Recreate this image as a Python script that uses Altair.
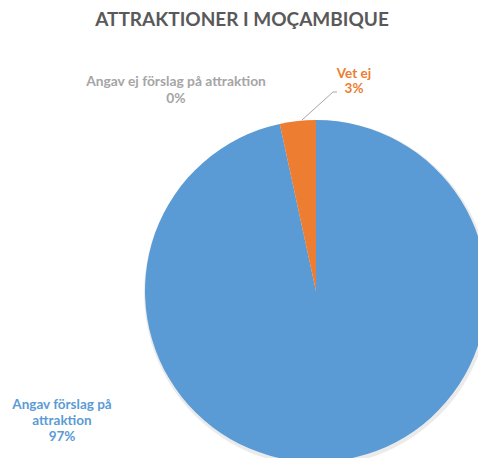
import altair as alt
import pandas as pd

categories = ["Angav förslag på attraktion", "Angav ej förslag på attraktion", "Vet ej"]
values = [96.6, 0.0, 3.4]
pct_labels = ["97%", "0%", "3%"]
colors = ["#5B9BD5", "#A5A5A5", "#ED7D31"]
title_text = "ATTRAKTIONER I MOÇAMBIQUE"

df = pd.DataFrame({
    "category": categories,
    "value": values,
    "pct": pct_labels,
    "idx": list(range(len(categories))),
})
df["label"] = [
    "Angav förslag på\nattraktion\n" + pct_labels[0],
    categories[1] + "\n" + pct_labels[1],
    categories[2] + "\n" + pct_labels[2],
]

FONT = "Lato"
CX, CY, R = 308, 283, 171

color_scale = alt.Scale(domain=categories, range=colors)

base = alt.Chart(df)

shadow = base.mark_arc(outerRadius=R + 2, color="#000000", opacity=0.08).encode(
    theta=alt.Theta("value:Q", stack=True),
    order=alt.Order("idx:Q"),
    x=alt.value(CX + 1), y=alt.value(CY + 2),
)

pie = base.mark_arc(outerRadius=R).encode(
    theta=alt.Theta("value:Q", stack=True),
    color=alt.Color("category:N", scale=color_scale, legend=None),
    order=alt.Order("idx:Q"),
    x=alt.value(CX), y=alt.value(CY),
)

def label_layer(cat, x, y, col, lh, fs=13.5):
    return base.transform_filter(alt.datum.category == cat).mark_text(
        font=FONT, fontSize=fs, fontWeight="bold", align="center",
        baseline="alphabetic", lineBreak="\n", lineHeight=lh, color=col,
    ).encode(text="label:N", x=alt.value(x), y=alt.value(y))

lab_blue = label_layer(categories[0], 54, 401, colors[0], 16)
lab_gray = label_layer(categories[1], 168, 78, colors[1], 17, 13.8)
lab_orange = label_layer(categories[2], 346, 70, colors[2], 15)

leader1 = alt.Chart(df.head(1)).mark_rule(color="#A6A6A6", strokeWidth=1).encode(
    x=alt.value(329), x2=alt.value(325), y=alt.value(84), y2=alt.value(84))
leader2 = alt.Chart(df.head(1)).mark_rule(color="#A6A6A6", strokeWidth=1).encode(
    x=alt.value(325), x2=alt.value(294), y=alt.value(84), y2=alt.value(112))

title = alt.Chart(pd.DataFrame({"t": [title_text]})).mark_text(
    font=FONT, fontSize=19, fontWeight="bold", color="#595959",
    align="center", baseline="alphabetic",
).encode(text="t:N", x=alt.value(234), y=alt.value(18))

chart = alt.layer(shadow, pie, leader1, leader2, lab_blue, lab_gray, lab_orange, title).properties(
    width=470, height=450, padding=0, autosize="none",
).configure_view(stroke=None)

chart.save("out.html", embed_options={"renderer": "svg", "actions": False})
